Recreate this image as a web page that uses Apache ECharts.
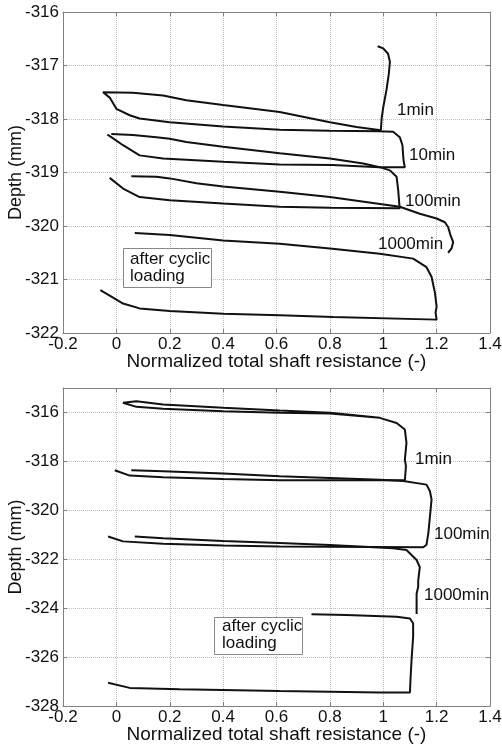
<!DOCTYPE html>
<html><head><meta charset="utf-8">
<script src="https://cdn.jsdelivr.net/npm/echarts@6/dist/echarts.min.js"></script>
<style>html,body{margin:0;padding:0;background:#fff}#c{width:502px;height:748px}</style>
</head><body><div id="c"></div>
<script>
// ---- Data (normalized shaft resistance, depth in mm) ----
const xTicks = { min: -0.2, max: 1.4, step: 0.2 };
const topDepth = { min: -322, max: -316, step: 1 };
const botDepth = { min: -328, max: -315, step: 2 };

// Upper panel
const topPath1 = [[0.979,-316.64],[1.000,-316.68],[1.018,-316.78],[1.025,-316.93],[1.021,-317.15],[1.012,-317.46],[1.000,-317.78],[0.994,-317.99],[0.991,-318.21],
  [0.900,-318.15],[0.800,-318.06],[0.612,-317.87],[0.400,-317.74],[0.262,-317.65],[0.175,-317.56],[0.062,-317.51],[-0.050,-317.50],
  [-0.025,-317.60],[0.000,-317.81],[0.050,-317.93],[0.087,-317.99],[0.200,-318.06],[0.400,-318.14],[0.612,-318.20],[0.800,-318.22],[0.985,-318.23],
  [1.037,-318.24],[1.062,-318.34],[1.072,-318.49],[1.075,-318.71],[1.077,-318.81],[1.081,-318.90],
  [0.987,-318.90],[0.810,-318.86],[0.612,-318.85],[0.400,-318.80],[0.175,-318.74],[0.087,-318.68],[0.025,-318.49],[-0.019,-318.34],[-0.034,-318.29]];
const topPath2 = [[-0.019,-318.28],[0.062,-318.30],[0.150,-318.34],[0.200,-318.37],[0.262,-318.43],[0.400,-318.52],[0.612,-318.64],[0.800,-318.74],[0.925,-318.83],[0.987,-318.90],
  [1.025,-318.96],[1.050,-319.08],[1.056,-319.33],[1.060,-319.58],[1.062,-319.67],
  [0.800,-319.66],[0.612,-319.64],[0.400,-319.58],[0.200,-319.52],[0.087,-319.46],[0.025,-319.30],[-0.025,-319.10]];
const topPath3 = [[0.056,-319.07],[0.150,-319.08],[0.200,-319.11],[0.300,-319.20],[0.400,-319.26],[0.612,-319.36],[0.800,-319.46],[1.062,-319.64],
  [1.137,-319.77],[1.200,-319.86],[1.231,-319.93],[1.243,-320.02],[1.252,-320.17],[1.262,-320.30],[1.256,-320.42],[1.243,-320.50]];
const topPath4 = [[0.069,-320.13],[0.200,-320.17],[0.400,-320.27],[0.612,-320.33],[0.800,-320.42],[0.987,-320.52],[1.112,-320.61],[1.162,-320.77],[1.181,-320.95],
  [1.194,-321.26],[1.200,-321.51],[1.196,-321.62],[1.200,-321.75],
  [0.812,-321.70],[0.612,-321.67],[0.400,-321.64],[0.200,-321.59],[0.087,-321.54],[0.025,-321.45],[-0.025,-321.30],[-0.060,-321.20]];

// Lower panel
const botPath1 = [[0.987,-316.22],[0.800,-316.04],[0.612,-316.01],[0.400,-315.95],[0.175,-315.85],[0.075,-315.77],[0.025,-315.60],
  [0.075,-315.54],[0.175,-315.67],[0.400,-315.81],[0.612,-315.92],[0.800,-316.01],[0.987,-316.22],[1.050,-316.43],[1.081,-316.70],
  [1.087,-317.24],[1.081,-317.93],[1.085,-318.20],[1.081,-318.77],
  [0.612,-318.77],[0.400,-318.72],[0.175,-318.65],[0.050,-318.58],[-0.006,-318.36]];
const botPath2 = [[0.056,-318.36],[0.175,-318.40],[0.400,-318.50],[0.612,-318.61],[0.800,-318.68],[0.987,-318.75],[1.075,-318.80],[1.162,-318.95],
  [1.175,-319.22],[1.181,-319.56],[1.175,-320.25],[1.169,-320.93],[1.162,-321.41],[1.150,-321.51],
  [0.612,-321.48],[0.400,-321.44],[0.175,-321.37],[0.025,-321.27],[-0.031,-321.07]];
const botPath3 = [[0.069,-321.07],[0.175,-321.14],[0.400,-321.25],[0.612,-321.34],[0.800,-321.42],[1.037,-321.55],[1.087,-321.62],[1.125,-322.03],
  [1.137,-322.32],[1.131,-322.87],[1.131,-323.12],[1.125,-323.41],[1.125,-323.96],[1.125,-324.24]];
const botPath4 = [[0.731,-324.25],[0.862,-324.28],[1.050,-324.35],[1.100,-324.42],[1.112,-324.62],[1.112,-325.17],[1.106,-326.12],[1.102,-326.94],[1.100,-327.45],
  [0.987,-327.45],[0.612,-327.39],[0.237,-327.32],[0.050,-327.26],[-0.031,-327.05]];

const xName = 'Normalized total shaft resistance (-)';
const yName = 'Depth (mm)';
const topLabels = ['1min', '10min', '100min', '1000min'];
const botLabels = ['1min', '100min', '1000min'];
const boxText = 'after cyclic\nloading';

// ---- Chart ----
const FONT = 'Liberation Sans, Arial, sans-serif';
const FRAME = '#808080';
const chart = echarts.init(document.getElementById('c'), null, { renderer: 'canvas' });

function xAxis(gi, top) {
  const a = {
    type: 'value', gridIndex: gi, min: xTicks.min, max: xTicks.max, interval: xTicks.step,
    position: top ? 'top' : 'bottom',
    axisLine: { show: true, onZero: false, lineStyle: { color: FRAME, width: 1 } },
    axisTick: { show: true, inside: true, length: 4, lineStyle: { color: FRAME } },
    axisLabel: { show: !top, fontFamily: FONT, fontSize: 17, color: '#111', margin: 3 },
    splitLine: { show: !top, lineStyle: { type: 'dotted', color: '#c0c0c0', width: 1 } }
  };
  if (!top) {
    a.name = xName; a.nameLocation = 'middle'; a.nameGap = 19; a.nameMoveOverlap = false;
    a.nameTextStyle = { fontFamily: FONT, fontSize: 19, color: '#111' };
  }
  return a;
}
function yAxis(gi, d, right) {
  const a = {
    type: 'value', gridIndex: gi, min: d.min, max: d.max, interval: d.step,
    position: right ? 'right' : 'left',
    axisLine: { show: true, onZero: false, lineStyle: { color: FRAME, width: 1 } },
    axisTick: { show: true, inside: true, length: 4, lineStyle: { color: FRAME } },
    axisLabel: { show: !right, fontFamily: FONT, fontSize: 17, color: '#111', margin: 4,
      formatter: v => ((v - d.min) % d.step === 0 ? String(v) : '') },
    splitLine: { show: !right, lineStyle: { type: 'dotted', color: '#c0c0c0', width: 1 } }
  };
  if (!right) {
    a.name = yName; a.nameLocation = 'middle'; a.nameGap = 38; a.nameRotate = 90; a.nameMoveOverlap = false;
    a.nameTextStyle = { fontFamily: FONT, fontSize: 18, color: '#111' };
  }
  return a;
}
function line(data, gi) {
  return { type: 'line', data: data, xAxisIndex: gi, yAxisIndex: gi, showSymbol: false, symbol: 'none',
    lineStyle: { color: '#111', width: 2 }, silent: true, animation: false, z: 5 };
}
function txt(x, y, s) {
  return { type: 'text', left: x, top: y, style: { text: s, font: '17px ' + FONT, fill: '#111', textVerticalAlign: 'middle' }, z: 10 };
}
function box(x, y, w, h, tx, ty) {
  return [
    { type: 'rect', left: x, top: y, shape: { width: w, height: h }, style: { fill: '#fff', stroke: '#888', lineWidth: 1 }, z: 9 },
    { type: 'text', left: tx, top: ty, style: { text: boxText, font: '17px ' + FONT, fill: '#111', lineHeight: 17 }, z: 10 }
  ];
}

chart.setOption({
  animation: false,
  backgroundColor: '#fff',
  grid: [
    { left: 63, top: 12, width: 427, height: 321, show: false, containLabel: false, outerBoundsMode: 'none' },
    { left: 63, top: 388, width: 427, height: 318, show: false, containLabel: false, outerBoundsMode: 'none' }
  ],
  xAxis: [xAxis(0, false), xAxis(1, false), xAxis(0, true), xAxis(1, true)],
  yAxis: [yAxis(0, topDepth, false), yAxis(1, botDepth, false), yAxis(0, topDepth, true), yAxis(1, botDepth, true)],
  series: [
    line(topPath1, 0), line(topPath2, 0), line(topPath3, 0), line(topPath4, 0),
    line(botPath1, 1), line(botPath2, 1), line(botPath3, 1), line(botPath4, 1)
  ],
  graphic: [
    txt(397, 102, topLabels[0]), txt(409, 147, topLabels[1]), txt(405, 193, topLabels[2]), txt(378, 236, topLabels[3]),
    ...box(123, 248, 88, 39, 130, 251),
    txt(415, 451, botLabels[0]), txt(434, 526, botLabels[1]), txt(424, 587, botLabels[2]),
    ...box(214, 617, 88, 37, 222, 618)
  ]
});
</script></body></html>
